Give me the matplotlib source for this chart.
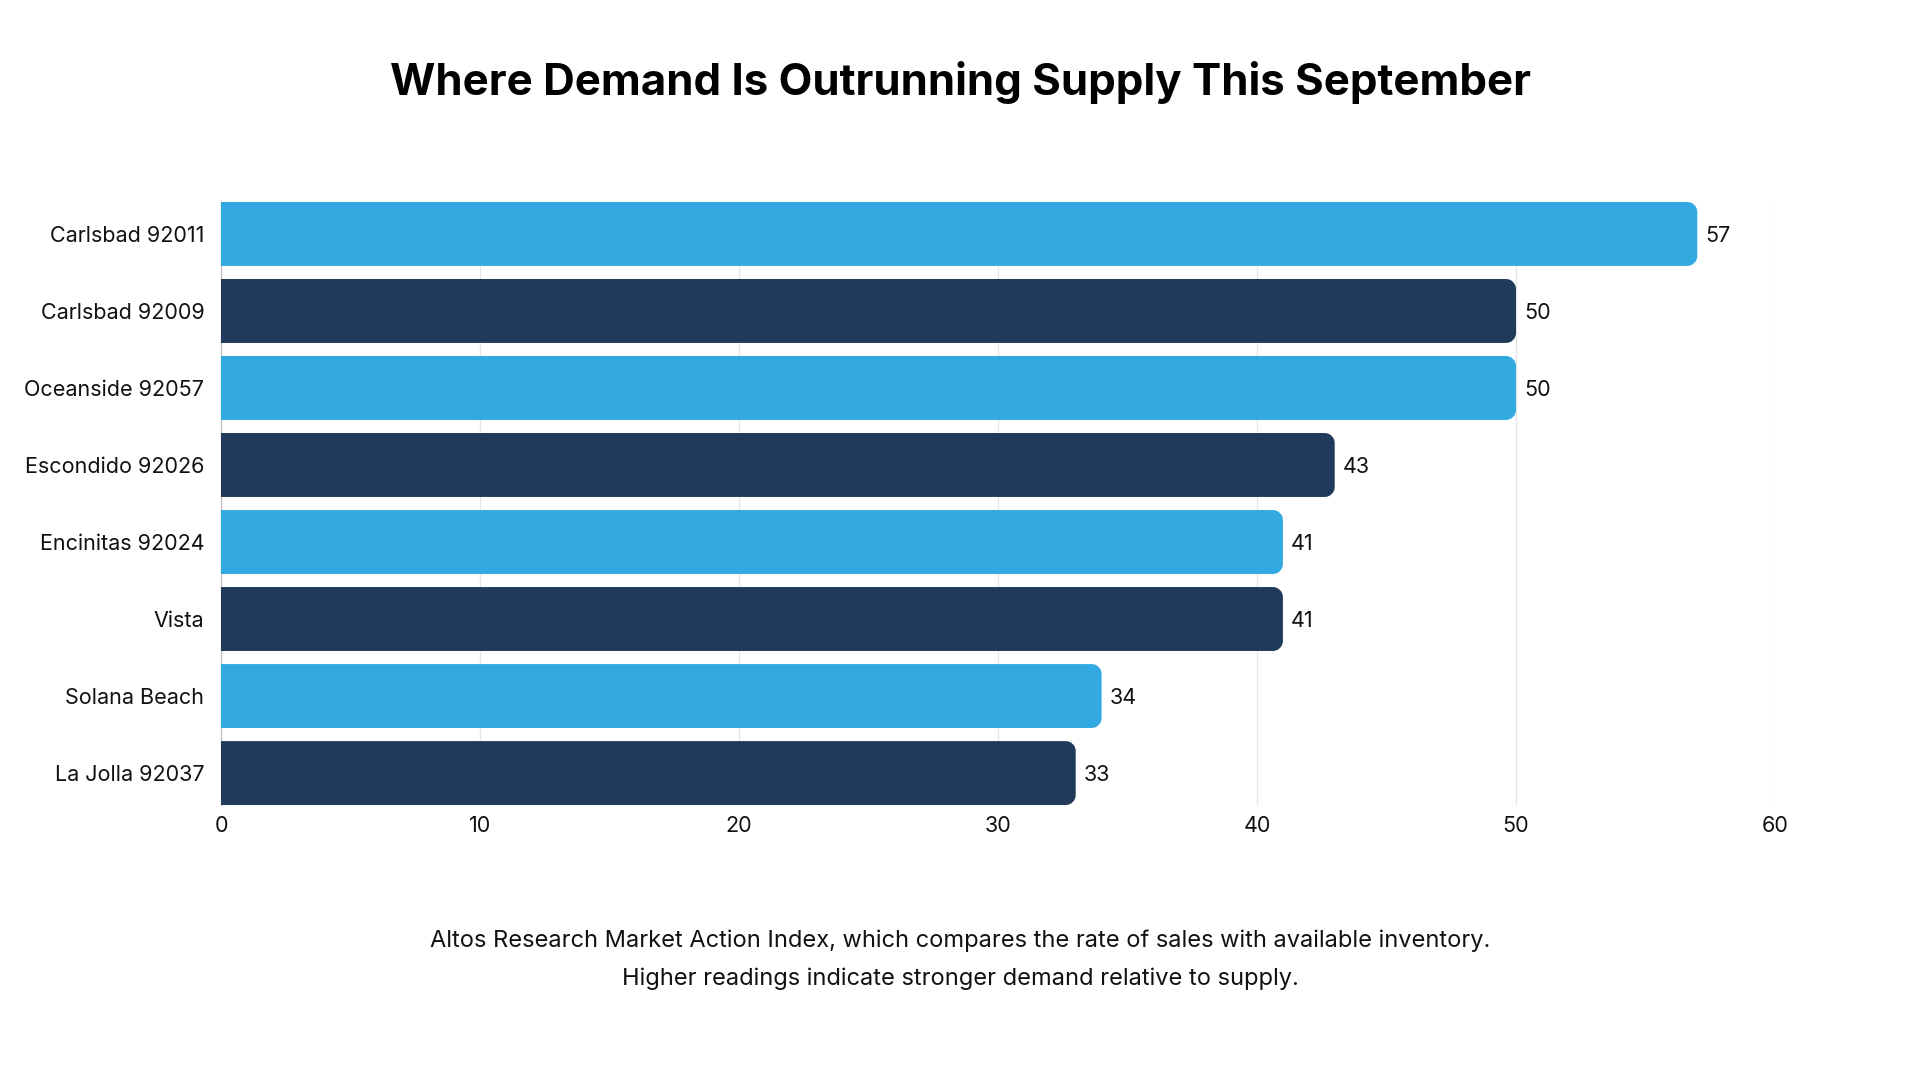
import matplotlib
matplotlib.use("Agg")
import matplotlib.pyplot as plt
from matplotlib.path import Path
from matplotlib.patches import PathPatch

plt.rcParams['font.family'] = ['Inter', 'DejaVu Sans']

categories = ["Carlsbad 92011", "Carlsbad 92009", "Oceanside 92057", "Escondido 92026",
              "Encinitas 92024", "Vista", "Solana Beach", "La Jolla 92037"]
values = [57, 50, 50, 43, 41, 41, 34, 33]
colors = ["#32a9e0", "#1f3a5a"]
xticks = [0, 10, 20, 30, 40, 50, 60]
title = "Where Demand Is Outrunning Supply This September"
caption = ("Altos Research Market Action Index, which compares the rate of sales with available inventory.\n"
           "Higher readings indicate stronger demand relative to supply.")

fig = plt.figure(figsize=(19.2, 10.8), dpi=100)
ax = fig.add_axes([221/1920, 1 - 805/1080, (1775-221)/1920, (805-202)/1080])

n = len(categories)
ypos = list(range(n))
bar_h = 0.83
ax.set_xlim(0, 60)
ax.set_ylim(n - 1 + bar_h/2, -bar_h/2)

bars = ax.barh(ypos, values, height=bar_h, color=[colors[i % 2] for i in range(n)], zorder=3)

# Replace bars by right-rounded shapes
fig.canvas.draw()
bbox = ax.get_window_extent()
px_per_x = bbox.width / 60
px_per_y = bbox.height / (n - 1 + bar_h)
r_px = 10
rx = r_px / px_per_x
ry = r_px / px_per_y
k = 0.5523
for b in bars:
    x0 = b.get_x(); y0 = b.get_y(); w = b.get_width(); h = b.get_height()
    x1 = x0 + w; y1 = y0 + h
    verts = [(x0, y0), (x1 - rx, y0),
             (x1 - rx + k*rx, y0), (x1, y0 + ry - k*ry), (x1, y0 + ry),
             (x1, y1 - ry),
             (x1, y1 - ry + k*ry), (x1 - rx + k*rx, y1), (x1 - rx, y1),
             (x0, y1), (x0, y0)]
    codes = [Path.MOVETO, Path.LINETO,
             Path.CURVE4, Path.CURVE4, Path.CURVE4,
             Path.LINETO,
             Path.CURVE4, Path.CURVE4, Path.CURVE4,
             Path.LINETO, Path.CLOSEPOLY]
    patch = PathPatch(Path(verts, codes), facecolor=b.get_facecolor(), edgecolor='none', zorder=3)
    ax.add_patch(patch)
    b.set_visible(False)

for y, v in zip(ypos, values):
    ax.text(v + 0.3, y + 0.03, str(v), va='center', ha='left', fontsize=15.5, color='#111111', zorder=4)

ax.set_yticks(ypos)
ax.set_yticklabels(categories, fontsize=15.5, color='#111111')
ax.set_xticks(xticks)
ax.set_xticklabels([str(t) for t in xticks], fontsize=15.5, color='#111111')
ax.tick_params(axis='y', length=0, pad=12)
ax.tick_params(axis='x', length=0, pad=8)
ax.grid(axis='x', color='#e6e6e6', linewidth=1, zorder=0)
for s in ['top', 'right', 'bottom']:
    ax.spines[s].set_visible(False)
ax.spines['left'].set_color('#c4c4c4')
ax.spines['left'].set_linewidth(1)

fig.text(0.5, 1 - 82.5/1080, title, ha='center', va='center', fontsize=31.5, fontweight='bold', color='#000000')
fig.text(0.5, 1 - 960/1080, caption, ha='center', va='center', fontsize=17, color='#111111', linespacing=1.9)

fig.savefig("out.png", dpi=100, facecolor='white')
